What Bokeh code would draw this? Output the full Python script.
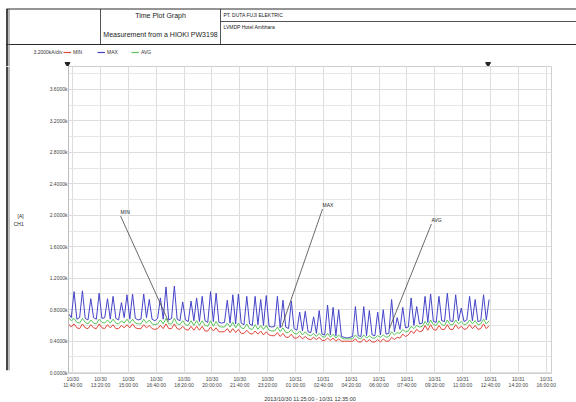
from bokeh.plotting import figure
from bokeh.layouts import column, row
from bokeh.models import (Range1d, FixedTicker, Legend, LegendItem,
                          PrintfTickFormatter)
from bokeh.core.properties import value
from bokeh.embed import file_html
from bokeh.resources import INLINE

# ---------------- data (kA, one sample every 10 min from 10/30 11:25) ----------------
sample_step_min = 10
max_vals = [
    0.75, 0.70, 1.03, 0.68, 0.70, 1.04, 0.69, 0.67, 0.94, 0.70,
    0.68, 1.01, 0.69, 0.70, 0.94, 0.68, 0.97, 0.69, 0.67, 0.89,
    0.70, 0.99, 0.68, 1.00, 0.69, 0.67, 0.68, 1.00, 0.70, 0.93,
    0.68, 0.66, 0.69, 0.95, 0.68, 1.09, 0.67, 0.69, 1.10, 0.68,
    0.66, 0.90, 0.67, 0.65, 0.91, 0.66, 0.95, 0.65, 0.97, 0.66,
    0.64, 1.03, 0.65, 1.01, 0.64, 0.63, 0.64, 0.92, 0.63, 0.99,
    0.62, 1.00, 0.63, 0.61, 0.97, 0.62, 0.60, 0.97, 0.61, 0.93,
    0.60, 0.98, 0.59, 0.58, 0.59, 0.97, 0.57, 0.92, 0.58, 0.56,
    0.91, 0.56, 0.54, 0.77, 0.53, 0.78, 0.52, 0.51, 0.71, 0.50,
    0.79, 0.49, 0.48, 0.86, 0.48, 0.83, 0.47, 0.80, 0.46, 0.45,
    0.44, 0.45, 0.46, 0.84, 0.47, 0.46, 0.84, 0.47, 0.79, 0.48,
    0.47, 0.77, 0.48, 0.80, 0.49, 0.50, 0.93, 0.52, 0.70, 0.55,
    0.83, 0.57, 0.58, 0.95, 0.60, 0.84, 0.62, 0.63, 0.97, 0.64,
    1.00, 0.65, 0.64, 0.97, 0.66, 0.65, 1.01, 0.66, 0.65, 0.99,
    0.66, 0.82, 0.65, 0.67, 0.97, 0.66, 0.93, 0.65, 0.66, 0.99,
    0.67, 0.93,
]
avg_vals = [
    0.70, 0.66, 0.69, 0.64, 0.63, 0.69, 0.64, 0.62, 0.67, 0.63,
    0.62, 0.68, 0.64, 0.63, 0.67, 0.63, 0.68, 0.63, 0.62, 0.66,
    0.63, 0.68, 0.63, 0.68, 0.63, 0.62, 0.62, 0.68, 0.63, 0.67,
    0.62, 0.61, 0.62, 0.67, 0.62, 0.69, 0.62, 0.62, 0.69, 0.62,
    0.61, 0.66, 0.61, 0.60, 0.66, 0.60, 0.66, 0.60, 0.66, 0.60,
    0.59, 0.66, 0.59, 0.65, 0.59, 0.58, 0.58, 0.63, 0.58, 0.64,
    0.57, 0.63, 0.57, 0.56, 0.62, 0.56, 0.55, 0.61, 0.55, 0.60,
    0.55, 0.60, 0.54, 0.53, 0.53, 0.58, 0.52, 0.57, 0.51, 0.51,
    0.55, 0.50, 0.49, 0.53, 0.48, 0.52, 0.48, 0.47, 0.50, 0.46,
    0.50, 0.46, 0.45, 0.50, 0.45, 0.49, 0.44, 0.48, 0.44, 0.43,
    0.43, 0.43, 0.43, 0.48, 0.44, 0.43, 0.48, 0.44, 0.47, 0.44,
    0.44, 0.47, 0.45, 0.48, 0.45, 0.46, 0.52, 0.48, 0.51, 0.50,
    0.55, 0.52, 0.53, 0.59, 0.56, 0.60, 0.58, 0.59, 0.65, 0.60,
    0.67, 0.61, 0.60, 0.66, 0.61, 0.60, 0.67, 0.61, 0.61, 0.67,
    0.62, 0.65, 0.61, 0.62, 0.67, 0.62, 0.66, 0.61, 0.62, 0.68,
    0.62, 0.66,
]
min_vals = [
    0.62, 0.58, 0.62, 0.57, 0.56, 0.62, 0.57, 0.56, 0.61, 0.57,
    0.56, 0.62, 0.57, 0.56, 0.61, 0.57, 0.61, 0.56, 0.56, 0.60,
    0.57, 0.61, 0.57, 0.62, 0.57, 0.56, 0.56, 0.61, 0.57, 0.60,
    0.56, 0.55, 0.56, 0.60, 0.56, 0.62, 0.56, 0.56, 0.62, 0.56,
    0.55, 0.59, 0.55, 0.54, 0.59, 0.54, 0.59, 0.54, 0.59, 0.53,
    0.53, 0.58, 0.53, 0.57, 0.52, 0.52, 0.52, 0.56, 0.51, 0.56,
    0.51, 0.55, 0.50, 0.50, 0.54, 0.50, 0.49, 0.53, 0.49, 0.53,
    0.48, 0.52, 0.48, 0.47, 0.47, 0.51, 0.46, 0.50, 0.45, 0.45,
    0.49, 0.44, 0.44, 0.47, 0.43, 0.46, 0.43, 0.42, 0.45, 0.42,
    0.45, 0.41, 0.41, 0.44, 0.41, 0.44, 0.40, 0.43, 0.40, 0.40,
    0.40, 0.40, 0.40, 0.43, 0.39, 0.39, 0.43, 0.39, 0.42, 0.39,
    0.39, 0.42, 0.39, 0.43, 0.40, 0.40, 0.45, 0.42, 0.45, 0.44,
    0.49, 0.46, 0.48, 0.53, 0.50, 0.55, 0.52, 0.53, 0.60, 0.54,
    0.61, 0.55, 0.54, 0.60, 0.55, 0.55, 0.61, 0.55, 0.55, 0.61,
    0.56, 0.59, 0.55, 0.56, 0.61, 0.56, 0.60, 0.55, 0.56, 0.62,
    0.56, 0.60,
]
minutes = [i * sample_step_min for i in range(len(max_vals))]

x_tick_minutes = [15, 115, 215, 315, 415, 515, 615, 715, 815, 915,
                  1015, 1115, 1215, 1315, 1415, 1515, 1615, 1715]
x_tick_labels = ["10/30\n11:40:00", "10/30\n13:20:00", "10/30\n15:00:00",
                 "10/30\n16:40:00", "10/30\n18:20:00", "10/30\n20:00:00",
                 "10/30\n21:40:00", "10/30\n23:20:00", "10/31\n01:00:00",
                 "10/31\n02:40:00", "10/31\n04:20:00", "10/31\n06:00:00",
                 "10/31\n07:40:00", "10/31\n09:20:00", "10/31\n11:00:00",
                 "10/31\n12:40:00", "10/31\n14:20:00", "10/31\n16:00:00"]
y_ticks = [0.0, 0.4, 0.8, 1.2, 1.6, 2.0, 2.4, 2.8, 3.2, 3.6]
y_minor_ticks = [0.2, 0.6, 1.0, 1.4, 1.8, 2.2, 2.6, 3.0, 3.4, 3.8]

series_names = ["MIN", "MAX", "AVG"]
series_colors = ["#e0463c", "#4444c8", "#5cc45c"]

callout_text = ["MIN", "MAX", "AVG"]
callout_x0 = [187, 912, 1303]
callout_y0 = [1.99, 2.08, 1.89]
callout_x1 = [359, 765, 1152]
callout_y1 = [0.65, 0.58, 0.56]

header_title = ["Time Plot Graph", "Measurement from a HIOKI PW3198"]
header_info = ["PT. DUTA FUJI ELEKTRIC", "LVMDP Hotel Ambhara"]
scale_text = "3.2000kA/div"
x_caption = "2013/10/30 11:25:00 - 10/31 12:35:00"
y_caption = "[A]\nCH1"

# ---------------- geometry ----------------
FONT = "Liberation Sans"
PAGE_W = 576
HEAD_H = 66
STRIP_W = 10
MAIN_H = 336
FRAME_LEFT = 67
FRAME_W = 483
FRAME_H = 307
X_START, X_END = 0, 1734
Y_START, Y_END = -0.01, 3.89
DARK = "#2a2a2a"


def bare(fig):
    fig.grid.visible = False
    fig.outline_line_color = None
    fig.min_border = 0
    return fig


# ---------------- header (table, legend, cursors) ----------------
hd = bare(figure(width=PAGE_W, height=HEAD_H, x_range=Range1d(0, PAGE_W),
                 y_range=Range1d(HEAD_H, 0), x_axis_location=None,
                 y_axis_location=None, output_backend="svg",
                 toolbar_location=None, min_border=0))
hd.segment(x0=[6, 6, 220, 100, 220], y0=[8.5, 44, 21, 8.5, 8.5],
           x1=[576, 576, 576, 100, 220], y1=[8.5, 44, 21, 44, 44],
           line_color=DARK, line_width=[1, 1, 0.8, 0.8, 0.8])
hd.segment(x0=[6.5, 8.5], y0=[8.5, 8.5], x1=[6.5, 8.5], y1=[HEAD_H, HEAD_H],
           line_color=["#1a1a1a", "#777777"], line_width=[1.6, 1])
hd.text(x=[160, 160], y=[15, 34], text=header_title, text_font=value(FONT),
        text_font_size="7px", text_color="#222222", text_align="center",
        text_baseline="middle")
hd.text(x=[223, 223], y=[14.5, 26], text=header_info, text_font=value(FONT),
        text_font_size="5px", text_color="#222222", text_align="left",
        text_baseline="middle")
hd.text(x=[33], y=[51.5], text=[scale_text], text_font=value(FONT),
        text_font_size="5px", text_color="#333333", text_align="left",
        text_baseline="middle")

# legend swatches (same colours as the series; their own points lie off-view)
lr = [hd.line(x=[-20, -10], y=[-20, -20], line_color=c, line_width=1.2)
      for c in series_colors]
legend = Legend(items=[LegendItem(label=n, renderers=[r])
                       for n, r in zip(series_names, lr)],
                orientation="horizontal", location=(63, 11),
                label_text_font=FONT, label_text_font_size="5px",
                label_text_color="#333333", glyph_width=8, glyph_height=6,
                label_height=6, label_standoff=2, spacing=4, padding=0,
                margin=0, border_line_alpha=0, background_fill_alpha=0)
hd.add_layout(legend)

# start / end cursors, positioned with the same x mapping as the main frame
cursor_t = [minutes[0], minutes[-1]]
cursor_px = [FRAME_LEFT + (t - X_START) / (X_END - X_START) * FRAME_W for t in cursor_t]
hd.scatter(x=cursor_px, y=[63.5, 63.5], marker="inverted_triangle", size=5,
           fill_color="#222222", line_color="#222222")

# ---------------- left border strip ----------------
st = bare(figure(width=STRIP_W, height=MAIN_H, x_range=Range1d(0, STRIP_W),
                 y_range=Range1d(0, MAIN_H), x_axis_location=None,
                 y_axis_location=None, output_backend="svg",
                 toolbar_location=None, min_border=0))
st.segment(x0=[6.5, 8.5], y0=[0, 0], x1=[6.5, 8.5], y1=[MAIN_H, MAIN_H],
           line_color=["#1a1a1a", "#777777"], line_width=[1.6, 1])

# ---------------- main plot ----------------
p = figure(frame_width=FRAME_W, frame_height=FRAME_H,
           min_border_left=FRAME_LEFT - STRIP_W,
           min_border_right=PAGE_W - FRAME_LEFT - FRAME_W,
           min_border_top=0, min_border_bottom=MAIN_H - FRAME_H,
           x_range=Range1d(X_START, X_END), y_range=Range1d(Y_START, Y_END),
           output_backend="svg", toolbar_location=None,
           background_fill_color="white", border_fill_color="white")
p.outline_line_color = "#cfcfcf"

p.xaxis.ticker = FixedTicker(ticks=x_tick_minutes)
p.xaxis.major_label_overrides = dict(zip(x_tick_minutes, x_tick_labels))
p.xaxis.axis_line_color = None
p.xaxis.major_tick_line_color = None
p.xaxis.minor_tick_line_color = None
p.xaxis.major_tick_out = 0
p.xaxis.major_tick_in = 0
p.xaxis.minor_tick_out = 0
p.xaxis.major_label_standoff = 2
p.xaxis.major_label_text_font = FONT
p.xaxis.major_label_text_font_size = "5px"
p.xaxis.major_label_text_line_height = 1.1
p.xaxis.major_label_text_color = "#444444"
p.xaxis.axis_label = x_caption
p.xaxis.axis_label_text_font = FONT
p.xaxis.axis_label_text_font_size = "5.5px"
p.xaxis.axis_label_text_font_style = "normal"
p.xaxis.axis_label_text_color = "#333333"
p.xaxis.axis_label_standoff = 5

yticker = FixedTicker(ticks=y_ticks, minor_ticks=y_minor_ticks)
p.yaxis.ticker = yticker
p.yaxis.formatter = PrintfTickFormatter(format="%.4fk")
p.yaxis.axis_line_color = "#bdbdbd"
p.yaxis.major_tick_line_color = None
p.yaxis.minor_tick_line_color = None
p.yaxis.major_tick_out = 0
p.yaxis.major_tick_in = 0
p.yaxis.minor_tick_out = 0
p.yaxis.major_label_standoff = 1
p.yaxis.major_label_text_font = FONT
p.yaxis.major_label_text_font_size = "5px"
p.yaxis.major_label_text_color = "#444444"
p.yaxis.axis_label = y_caption
p.yaxis.axis_label_orientation = "horizontal"
p.yaxis.axis_label_text_font = FONT
p.yaxis.axis_label_text_font_size = "5px"
p.yaxis.axis_label_text_font_style = "normal"
p.yaxis.axis_label_text_color = "#222222"
p.yaxis.axis_label_standoff = 23

p.xgrid.ticker = FixedTicker(ticks=x_tick_minutes)
p.xgrid.grid_line_color = "#dedede"
p.ygrid.ticker = yticker
p.ygrid.grid_line_color = "#dedede"
p.ygrid.minor_grid_line_color = "#e6e6e6"

r_max = p.line(minutes, max_vals, line_color=series_colors[1], line_width=1)
r_avg = p.line(minutes, avg_vals, line_color=series_colors[2], line_width=1)
r_min = p.line(minutes, min_vals, line_color=series_colors[0], line_width=1)

p.segment(x0=callout_x0, y0=callout_y0, x1=callout_x1, y1=callout_y1,
          line_color="#444444", line_width=0.8)
p.text(x=callout_x0, y=callout_y0, text=callout_text,
       text_font=value(FONT), text_font_size="5px", text_color="#222222",
       text_align="left", text_baseline="bottom", y_offset=-1)

layout = column(hd, row(st, p, spacing=0), spacing=0)
open("out.html", "w").write(file_html(layout, INLINE))
